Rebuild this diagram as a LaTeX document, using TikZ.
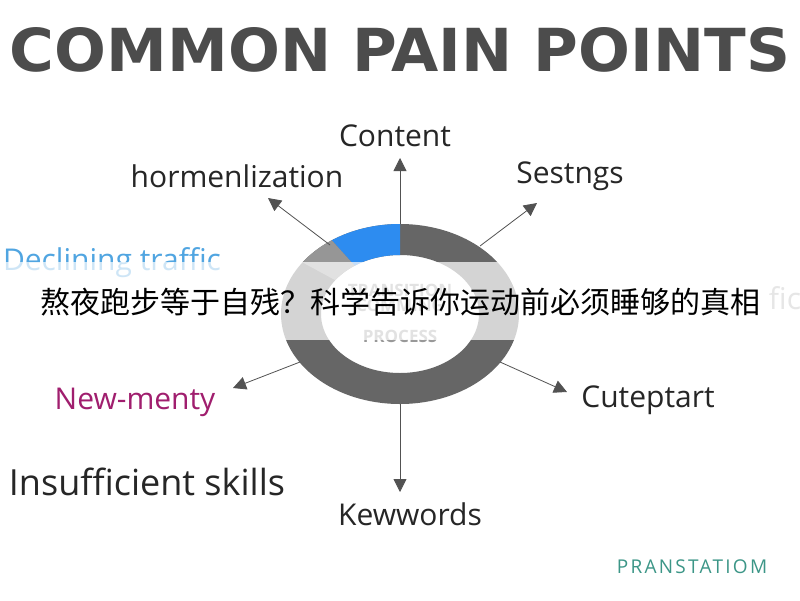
\documentclass[tikz,border=0pt]{standalone}
\usepackage{fontspec}
\setmainfont{Open Sans}
\newfontfamily\cjk{Noto Sans CJK SC}
\newfontfamily\titlefont{DejaVu Sans}
\usetikzlibrary{arrows.meta,calc}
\definecolor{ringdark}{RGB}{102,102,102}
\definecolor{ringmid}{RGB}{150,150,150}
\definecolor{ringblue}{RGB}{45,140,240}
\definecolor{declblue}{RGB}{80,165,225}
\definecolor{newpurple}{RGB}{160,30,110}
\definecolor{pteal}{RGB}{60,150,135}
\tikzset{
  spoke/.style={thick, ringdark!80!black, -{Triangle[length=13pt,width=13pt]}},
  lbl/.style={font=\fontsize{30}{34}\selectfont, text=black!85, inner sep=0pt}
}
\begin{document}
\begin{tikzpicture}[x=1pt,y=-1pt]
\useasboundingbox (0,0) rectangle (800,600);
\fill [white] (0,0) rectangle (800,600);
% title
\node [inner sep=0pt, text=black!70] (title) at (400,50)
  {\resizebox{780pt}{44pt}{\titlefont\bfseries COMMON PAIN POINTS}};
% ring
\fill [ringdark, even odd rule] (400,314) ellipse [x radius=119, y radius=90]
  (400,314) ellipse [x radius=79, y radius=59];
\fill [ringblue] ($(400,314)+(-90:119 and 90)$) arc [start angle=-90, end angle=-125, x radius=119, y radius=90]
  -- ($(400,314)+(-125:79 and 59)$) arc [start angle=-125, end angle=-90, x radius=79, y radius=59] -- cycle;
\fill [ringmid] ($(400,314)+(-125:119 and 90)$) arc [start angle=-125, end angle=-145, x radius=119, y radius=90]
  -- ($(400,314)+(-145:79 and 59)$) arc [start angle=-145, end angle=-125, x radius=79, y radius=59] -- cycle;
\node [text=black!40, font=\bfseries\fontsize{17}{19}\selectfont] (proc) at (400,336) {PROCESS};
\node [text=black!40, font=\bfseries\fontsize{17}{19}\selectfont, align=center] (trans) at (400,298) {TRANSITION\\[-4pt]COMMING};
% spokes
\coordinate (c1) at (400,224); \coordinate (c2) at (480,246); \coordinate (c3) at (330,245);
\coordinate (c4) at (300,362); \coordinate (c5) at (500,362); \coordinate (c6) at (400,404);
\coordinate (t1) at (400,158); \coordinate (t2) at (537,203); \coordinate (t3) at (268,198);
\coordinate (t4) at (233,388); \coordinate (t5) at (567,392); \coordinate (t6) at (400,492);
\foreach \i in {1,...,6} \draw [spoke] (c\i) -- (t\i);
% labels
\node [lbl] (content) at (395,136) {Content};
\node [lbl] (horm) at (237,176) {hormenlization};
\node [lbl] (sest) at (570,176) {Sestngs};
\node [lbl, text=declblue] (decl) at (112,263) {Declining traffic};
\node [lbl, text=black!35] (fic) at (785,298) {fic};
\node [lbl, text=newpurple] (newm) at (135,402) {New-menty};
\node [lbl] (cute) at (648,400) {Cuteptart};
\node [lbl, font=\fontsize{36}{40}\selectfont] (insuf) at (147,482) {Insufficient skills};
\node [lbl] (kew) at (410,514) {Kewwords};
\node [lbl, text=pteal, font=\fontsize{19}{22}\selectfont\addfontfeature{LetterSpace=12}] (pran) at (692,567) {PRANSTATIOM};
% banner
\fill [white, opacity=0.72] (0,262) rectangle (800,340);
\node [inner sep=0pt, font=\cjk\fontsize{30}{34}\selectfont] (banner) at (400,302) {熬夜跑步等于自残？科学告诉你运动前必须睡够的真相};
\end{tikzpicture}
\end{document}
